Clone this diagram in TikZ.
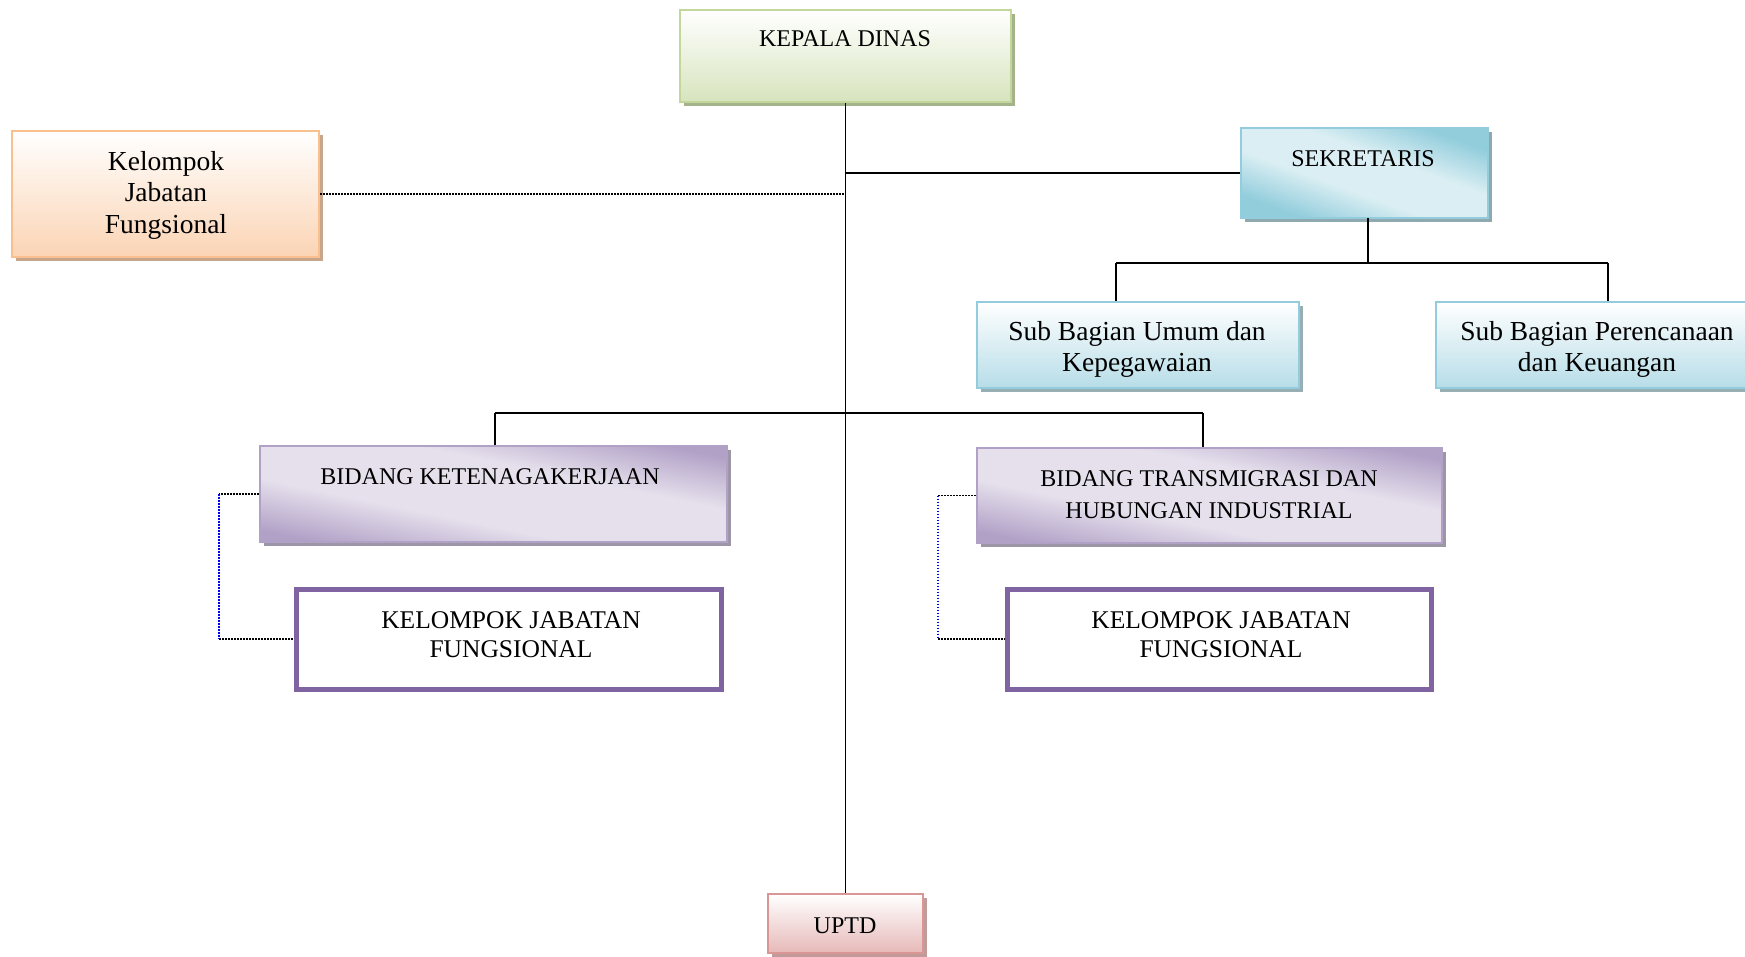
\documentclass[tikz,border=0pt]{standalone}
\usepackage{fontspec}
\setmainfont{Liberation Serif}
\usetikzlibrary{shadows}
\definecolor{kdF}{HTML}{D7E4BD}\definecolor{kdB}{HTML}{C3D69B}\definecolor{kdS}{HTML}{A5B38A}
\definecolor{orF}{HTML}{FBD4B4}\definecolor{orB}{HTML}{F9BF8F}\definecolor{orS}{HTML}{C8A68B}
\definecolor{seA}{HTML}{92CDDC}\definecolor{seB}{HTML}{DAEEF3}\definecolor{seBd}{HTML}{93CDDD}\definecolor{seS}{HTML}{8FA9B1}
\definecolor{sbF}{HTML}{B7DDE8}\definecolor{sbB}{HTML}{93CDDD}\definecolor{sbS}{HTML}{98AEB5}
\definecolor{biA}{HTML}{B2A1C7}\definecolor{biB}{HTML}{E5E0EC}\definecolor{biS}{HTML}{9D96A6}
\definecolor{upF}{HTML}{E6B9B8}\definecolor{upB}{HTML}{D99694}\definecolor{upS}{HTML}{C09B9A}
\definecolor{kjB}{HTML}{8064A2}
\pgfdeclareverticalshading{bidsh}{100bp}{color(0bp)=(biA); color(24bp)=(biA); color(40bp)=(biB); color(60bp)=(biB); color(76bp)=(biA); color(100bp)=(biA)}
\pgfdeclareverticalshading{seksh}{100bp}{color(0bp)=(seA); color(26bp)=(seA); color(42bp)=(seB); color(58bp)=(seB); color(74bp)=(seA); color(100bp)=(seA)}
\tikzset{
  box/.style={draw, rectangle, inner sep=0pt, line width=2.5pt},
  sh/.style={drop shadow={shadow xshift=4pt, shadow yshift=-4pt, fill=#1, opacity=1}},
  capt/.style={font=\fontsize{24}{32}\selectfont, align=center, inner sep=0pt},
  mixt/.style={font=\fontsize{27.5}{31.5}\selectfont, align=center, inner sep=0pt},
  kjt/.style={font=\fontsize{25.5}{29}\selectfont, align=center, inner sep=0pt},
  conn/.style={line width=1.8pt, black},
  dotk/.style={line width=1.5pt, black, dash pattern=on 1.5pt off 1.5pt},
  dotb/.style={line width=1.5pt, blue, dash pattern=on 1.5pt off 1.5pt},
}
\begin{document}
\begin{tikzpicture}[x=1pt, y=-1pt]
\fill[white] (0,0) rectangle (1745,956);
\useasboundingbox (0,0) rectangle (1745,956);
% boxes
\node[box, sh=kdS, draw=kdB, top color=white, bottom color=kdF, minimum width=331pt, minimum height=92pt] (kd) at (845.5,56) {};
\node[box, sh=orS, draw=orB, top color=white, bottom color=orF, minimum width=307pt, minimum height=126pt] (ok) at (165.5,194) {};
\node[box, sh=seS, draw=seBd, shading=seksh, shading angle=-20, minimum width=247pt, minimum height=90pt] (sek) at (1364.5,173) {};
\node[box, sh=sbS, draw=sbB, top color=white, bottom color=sbF, minimum width=322pt, minimum height=86pt] (sbu) at (1138,345) {};
\node[box, sh=sbS, draw=sbB, top color=white, bottom color=sbF, minimum width=322pt, minimum height=86pt] (sbp) at (1597,345) {};
\node[box, sh=biS, draw=biA, shading=bidsh, shading angle=-11.6, minimum width=467pt, minimum height=96pt] (bk) at (493.5,494) {};
\node[box, sh=biS, draw=biA, shading=bidsh, shading angle=-11.6, minimum width=465pt, minimum height=95pt] (bt) at (1209.5,495.5) {};
\node[box, draw=kjB, fill=white, line width=5pt, minimum width=425pt, minimum height=100pt] (kjl) at (508.5,639) {};
\node[box, draw=kjB, fill=white, line width=5pt, minimum width=424pt, minimum height=100pt] (kjr) at (1219,639) {};
\node[box, sh=upS, draw=upB, top color=white, bottom color=upF, minimum width=155pt, minimum height=59pt] (up) at (845.5,923.5) {};
% texts
\node[capt] (kdt) at (845,38.5) {KEPALA DINAS};
\node[mixt] (okt) at (166,195) {Kelompok\\Jabatan\\Fungsional};
\node[capt] (sekt) at (1363,158.5) {SEKRETARIS};
\node[mixt] (sbut) at (1137,349.5) {Sub Bagian Umum dan\\Kepegawaian};
\node[mixt] (sbpt) at (1597,349.5) {Sub Bagian Perencanaan\\dan Keuangan};
\node[capt] (bkt) at (490,476.5) {BIDANG KETENAGAKERJAAN};
\node[capt] (btt) at (1209,494.5) {BIDANG TRANSMIGRASI DAN\\HUBUNGAN INDUSTRIAL};
\node[kjt] (kjlt) at (511,634.5) {KELOMPOK JABATAN\\FUNGSIONAL};
\node[kjt] (kjrt) at (1221,634.5) {KELOMPOK JABATAN\\FUNGSIONAL};
\node[capt] (upt) at (845,925.5) {UPTD};
% connectors
\coordinate (sd) at (1368,218);
\coordinate (h1) at (1116,263);
\coordinate (h2) at (1608,263);
\coordinate (b1) at (495,413);
\coordinate (b2) at (1203,413);
\coordinate (lt) at (219,494);
\coordinate (lb) at (219,639);
\coordinate (rt) at (938,495.5);
\coordinate (rb) at (938,639);
\draw[conn] (kd.south) -- (up.north);
\draw[conn] (kd.south |- sek.west) -- (sek.west);
\draw[conn] (sd) -- (sd |- h1);
\draw[conn] (h1) -- (h2);
\draw[conn] (h1) -- (h1 |- sbu.north);
\draw[conn] (h2) -- (h2 |- sbp.north);
\draw[conn] (b1) -- (b2);
\draw[conn] (b1) -- (b1 |- bk.north);
\draw[conn] (b2) -- (b2 |- bt.north);
\draw[dotk] (ok.east) -- (ok.east -| kd.south);
\draw[dotk] (bk.west) -- (lt);
\draw[dotb] (lt) -- (lb);
\draw[dotk] (lb) -- (kjl.west);
\draw[dotk] (bt.west) -- (rt);
\draw[dotb] (rt) -- (rb);
\draw[dotk] (rb) -- (kjr.west);
\end{tikzpicture}
\end{document}
